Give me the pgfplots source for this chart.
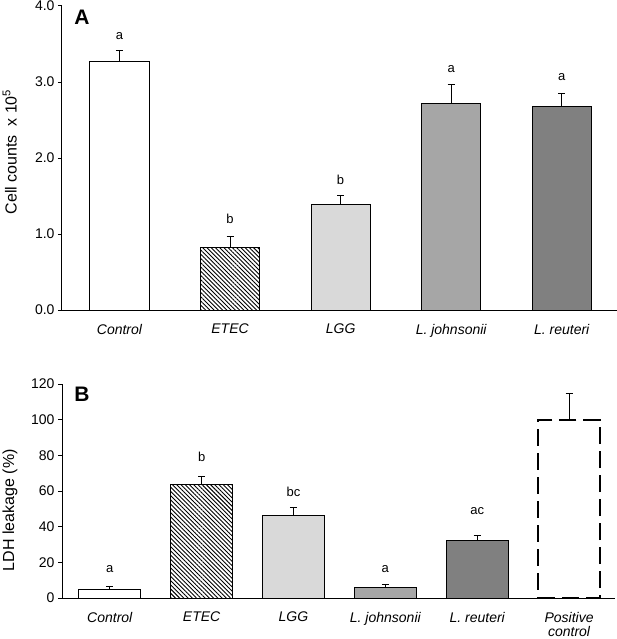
\documentclass[border=0pt]{standalone}
\usepackage{fontspec}
\setmainfont{Liberation Sans}
\usepackage{pgfplots}
\pgfplotsset{compat=1.18}
\usetikzlibrary{patterns.meta}
\definecolor{lgg}{HTML}{D9D9D9}
\definecolor{ljo}{HTML}{A6A6A6}
\definecolor{lre}{HTML}{808080}
\begin{document}
\begin{tikzpicture}
\path[use as bounding box] (0,0) rectangle (617pt,-639pt);
\pgfplotsset{
  common/.style={
    scale only axis,
    axis x line*=bottom, axis y line*=left,
    axis line style={line width=1pt,-},
    tick align=outside,
    major tick length=4pt,
    ytick style={line width=1pt,black},
    xtick style={draw=none},
    /pgf/number format/assume math mode=true,
    tick label style={font=\fontsize{14}{16}\selectfont},
    xticklabel style={font=\fontsize{14}{14.5}\selectfont\itshape, align=center, yshift=-6.5pt},
    ylabel style={font=\fontsize{16}{18}\selectfont},
  },
  bstyle/.style={ybar, bar width=#1, draw=black, line width=1pt,
    error bars/y dir=plus, error bars/y explicit,
    error bars/error mark=|,
    error bars/error bar style={solid, line width=1pt, black},
    error bars/error mark options={solid, line width=1pt, black, mark size=3.5pt}},
  lett/.style={only marks, mark=none, nodes near coords, point meta=explicit symbolic,
    nodes near coords style={anchor=south, inner sep=0pt, font=\fontsize{13}{15}\selectfont, black}},
}
% Panel A
\begin{axis}[common,
  at={(62pt,-310pt)}, anchor=south west,
  width=555pt, height=304pt,
  xmin=-0.52, xmax=4.5, ymin=0, ymax=4,
  xtick={0,1,2,3,4},
  xticklabels={Control,ETEC,LGG,L. johnsonii,L. reuteri},
  ytick={0,1,2,3,4},
  yticklabel style={/pgf/number format/.cd, fixed, fixed zerofill, precision=1},
  ylabel={Cell counts\ \ x 10\textsuperscript{5}},
  ylabel style={at={(axis description cs:-0.094,0.52)}, anchor=center},
]
\addplot[bstyle=0.534, fill=white] coordinates {(0,3.27) +- (0,0.14)};
\addplot[bstyle=0.534, fill=white, postaction={pattern={Lines[angle=-45,distance=3pt,line width=0.9pt]}}] coordinates {(1,0.825) +- (0,0.145)};
\addplot[bstyle=0.534, fill=lgg] coordinates {(2,1.385) +- (0,0.125)};
\addplot[bstyle=0.534, fill=ljo] coordinates {(3,2.72) +- (0,0.25)};
\addplot[bstyle=0.534, fill=lre] coordinates {(4,2.68) +- (0,0.17)};
\addplot[lett] coordinates {(0,3.56) [a] (1,1.13) [b] (2,1.65) [b] (3,3.12) [a] (4,3.02) [a]};
\node[font=\bfseries\fontsize{21}{24}\selectfont] at (axis description cs:0.036,0.962) {A};
\end{axis}
% Panel B
\begin{axis}[common,
  at={(62pt,-598pt)}, anchor=south west,
  width=553pt, height=214pt,
  xmin=-0.52, xmax=5.5, ymin=0, ymax=120,
  xtick={0,1,2,3,4,5},
  xticklabels={Control,ETEC,LGG,L. johnsonii,L. reuteri,{Positive\\control}},
  ytick={0,20,40,60,80,100,120},
  ylabel={LDH leakage (\%)},
  ylabel style={at={(axis description cs:-0.094,0.41)}, anchor=center},
]
\addplot[bstyle=0.675, fill=white] coordinates {(0,4.9) +- (0,1.4)};
\addplot[bstyle=0.675, fill=white, postaction={pattern={Lines[angle=-45,distance=3pt,line width=0.9pt]}}] coordinates {(1,63.4) +- (0,5.0)};
\addplot[bstyle=0.675, fill=lgg] coordinates {(2,46.0) +- (0,4.6)};
\addplot[bstyle=0.675, fill=ljo] coordinates {(3,5.8) +- (0,1.9)};
\addplot[bstyle=0.675, fill=lre] coordinates {(4,32.1) +- (0,3.1)};
\addplot[bstyle=0.675, fill=none, line width=1.8pt, dash pattern=on 17pt off 7pt] coordinates {(5,100) +- (0,14.4)};
\addplot[lett] coordinates {(0,13.9) [a] (1,76.3) [b] (2,56.8) [bc] (3,14.4) [a] (4,46.4) [ac]};
\node[font=\bfseries\fontsize{21}{24}\selectfont] at (axis description cs:0.036,0.953) {B};
\end{axis}
\end{tikzpicture}
\end{document}
